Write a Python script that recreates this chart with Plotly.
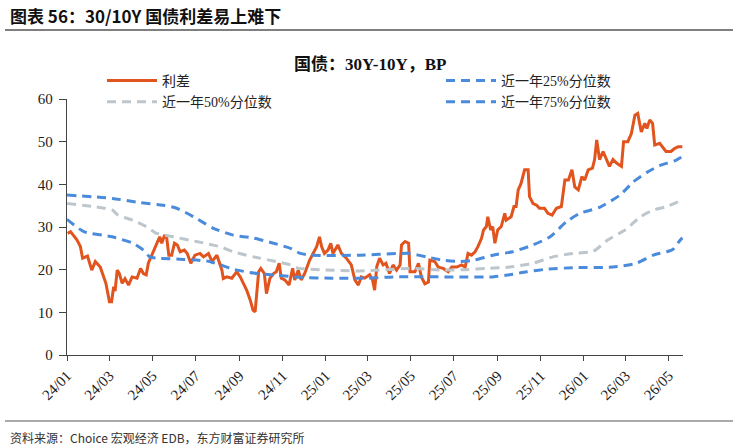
import plotly.graph_objects as go

# ---------------- data ----------------
spread_dates = [
    "2024-01-02", "2024-01-06", "2024-01-15", "2024-01-20", "2024-01-23", "2024-01-30",
    "2024-02-05", "2024-02-10", "2024-02-17", "2024-02-20", "2024-02-25", "2024-03-01",
    "2024-03-04", "2024-03-07", "2024-03-09", "2024-03-12", "2024-03-15", "2024-03-19",
    "2024-03-23", "2024-03-28", "2024-04-02", "2024-04-09", "2024-04-14", "2024-04-18",
    "2024-04-22", "2024-04-25", "2024-04-30", "2024-05-07", "2024-05-11", "2024-05-14",
    "2024-05-18", "2024-05-21", "2024-05-24", "2024-05-28", "2024-06-01", "2024-06-05",
    "2024-06-09", "2024-06-15", "2024-06-19", "2024-06-24", "2024-06-30", "2024-07-07",
    "2024-07-12", "2024-07-19", "2024-07-24", "2024-07-31", "2024-08-07", "2024-08-09",
    "2024-08-14", "2024-08-21", "2024-08-28", "2024-09-02", "2024-09-11", "2024-09-16",
    "2024-09-20", "2024-09-23", "2024-09-25", "2024-09-28", "2024-10-01", "2024-10-06",
    "2024-10-09", "2024-10-14", "2024-10-19", "2024-10-23", "2024-10-27", "2024-10-30",
    "2024-11-04", "2024-11-10", "2024-11-15", "2024-11-18", "2024-11-23", "2024-11-27",
    "2024-12-02", "2024-12-05", "2024-12-09", "2024-12-14", "2024-12-19", "2024-12-23",
    "2024-12-26", "2024-12-30", "2025-01-04", "2025-01-08", "2025-01-11", "2025-01-18",
    "2025-01-23", "2025-01-30", "2025-02-06", "2025-02-11", "2025-02-16", "2025-02-20",
    "2025-02-25", "2025-03-04", "2025-03-08", "2025-03-11", "2025-03-14", "2025-03-18",
    "2025-03-23", "2025-03-27", "2025-04-01", "2025-04-06", "2025-04-11", "2025-04-16",
    "2025-04-18", "2025-04-23", "2025-04-28", "2025-04-30", "2025-05-07", "2025-05-12",
    "2025-05-16", "2025-05-21", "2025-05-26", "2025-05-28", "2025-06-04", "2025-06-09",
    "2025-06-16", "2025-06-23", "2025-06-28", "2025-07-05", "2025-07-12", "2025-07-17",
    "2025-07-21", "2025-07-26", "2025-07-31", "2025-08-04", "2025-08-09", "2025-08-12",
    "2025-08-16", "2025-08-18", "2025-08-22", "2025-08-25", "2025-08-28", "2025-09-01",
    "2025-09-06", "2025-09-11", "2025-09-13", "2025-09-20", "2025-09-24", "2025-09-27",
    "2025-09-30", "2025-10-04", "2025-10-09", "2025-10-14", "2025-10-16", "2025-10-21",
    "2025-10-26", "2025-10-30", "2025-11-06", "2025-11-11", "2025-11-17", "2025-11-23",
    "2025-11-30", "2025-12-05", "2025-12-10", "2025-12-15", "2025-12-19", "2025-12-24",
    "2025-12-29", "2026-01-02", "2026-01-07", "2026-01-13", "2026-01-16", "2026-01-19",
    "2026-01-23", "2026-01-28", "2026-02-02", "2026-02-06", "2026-02-11", "2026-02-16",
    "2026-02-23", "2026-02-26", "2026-03-04", "2026-03-09", "2026-03-14", "2026-03-18",
    "2026-03-23", "2026-03-28", "2026-03-31", "2026-04-04", "2026-04-08", "2026-04-11",
    "2026-04-18", "2026-04-23", "2026-04-27", "2026-05-04", "2026-05-09", "2026-05-14",
    "2026-05-20",
]
spread_values = [
    28.5, 28.9, 27.0, 25.4, 22.7, 23.2,
    19.9, 21.9, 20.6, 19.1, 16.8, 12.5,
    12.5, 16.0, 15.0, 19.9, 19.1, 16.8,
    17.9, 16.4, 18.3, 18.0, 20.3, 19.1,
    18.8, 21.5, 23.4, 25.8, 27.7, 26.2,
    28.1, 27.4, 23.4, 23.4, 26.2, 25.8,
    24.2, 24.6, 23.8, 21.5, 23.4, 23.8,
    23.0, 23.8, 21.9, 23.4, 19.9, 17.9,
    18.3, 18.0, 19.5, 18.3, 15.2, 12.9,
    10.5, 10.1, 13.7, 19.5, 20.3, 19.1,
    14.4, 18.0, 19.1, 19.5, 21.5, 18.0,
    17.6, 16.4, 20.3, 17.6, 19.9, 17.6,
    19.1, 20.6, 22.2, 23.8, 25.4, 27.7,
    25.4, 23.8, 24.6, 26.2, 23.8, 25.8,
    23.8, 22.7, 21.1, 17.6, 16.4, 18.3,
    18.0, 18.8, 17.6, 15.2, 20.7, 22.7,
    21.1, 21.5, 19.1, 21.1, 19.9, 21.1,
    25.8, 26.6, 26.2, 19.5, 19.5, 21.5,
    18.3, 16.7, 17.1, 22.2, 21.9, 20.6,
    20.3, 19.5, 20.6, 20.6, 21.1, 20.6,
    23.8, 23.4, 24.2, 25.4, 27.3, 29.3,
    30.1, 32.4, 29.3, 30.1, 26.2, 29.3,
    30.1, 33.2, 31.6, 32.4, 34.8, 34.8,
    38.7, 40.2, 43.4, 43.4, 37.1, 35.5,
    35.1, 34.4, 34.4, 33.2, 32.8, 34.4,
    34.8, 41.0, 41.0, 43.4, 39.4, 38.7,
    41.8, 41.0, 43.4, 43.8, 45.8, 50.4,
    45.8, 47.7, 45.8, 44.2, 45.8, 45.0,
    44.2, 50.0, 50.0, 51.9, 56.2, 56.6,
    52.3, 54.3, 53.1, 55.1, 54.3, 49.2,
    49.6, 48.4, 47.7, 47.7, 48.4, 48.8,
    48.8,
]

q25_dates = [
    "2024-01-01", "2024-01-25", "2024-03-05", "2024-04-03", "2024-04-18", "2024-04-27",
    "2024-05-07", "2024-06-14", "2024-07-18", "2024-08-09", "2024-08-23", "2024-09-21",
    "2024-10-23", "2024-11-26", "2025-01-11", "2025-02-28", "2025-04-06", "2025-07-09",
    "2025-08-25", "2025-09-18", "2025-10-12", "2025-11-09", "2025-12-21", "2026-02-11",
    "2026-03-16", "2026-04-09", "2026-04-28", "2026-05-07", "2026-05-14", "2026-05-20",
]
q25_values = [
    31.8, 28.9, 27.7, 26.2, 24.6, 23.0,
    22.7, 22.4, 22.0, 20.9, 20.1, 19.2,
    18.7, 18.2, 18.0, 18.0, 18.3, 18.3,
    18.3, 18.8, 19.5, 20.1, 20.5, 20.6,
    21.5, 23.4, 24.2, 24.8, 26.3, 27.5,
]

q50_dates = [
    "2024-01-01", "2024-02-12", "2024-03-05", "2024-03-13", "2024-04-03", "2024-04-22",
    "2024-05-07", "2024-05-30", "2024-07-02", "2024-08-04", "2024-08-23", "2024-09-21",
    "2024-10-23", "2024-11-12", "2024-11-24", "2024-12-10", "2025-02-18", "2025-03-18",
    "2025-04-30", "2025-06-16", "2025-07-19", "2025-08-16", "2025-09-18", "2025-10-21",
    "2025-11-18", "2025-12-17", "2026-01-14", "2026-02-04", "2026-02-28", "2026-03-22",
    "2026-04-09", "2026-04-26", "2026-05-20",
]
q50_values = [
    35.5, 34.7, 34.0, 32.8, 31.6, 30.1,
    28.5, 27.7, 26.6, 25.4, 24.2, 23.0,
    21.9, 21.1, 20.3, 20.1, 19.7, 19.9,
    20.3, 19.9, 20.0, 20.3, 20.6, 21.5,
    23.0, 23.8, 24.3, 27.0, 29.3, 32.4,
    34.0, 34.7, 36.3,
]

q75_dates = [
    "2024-01-01", "2024-03-05", "2024-04-13", "2024-05-16", "2024-06-04", "2024-06-28",
    "2024-07-26", "2024-08-23", "2024-09-21", "2024-10-19", "2024-11-12", "2024-11-26",
    "2024-12-10", "2025-02-18", "2025-04-16", "2025-04-30", "2025-05-23", "2025-06-16",
    "2025-07-09", "2025-07-29", "2025-08-25", "2025-09-22", "2025-10-21", "2025-11-14",
    "2025-12-07", "2025-12-26", "2026-01-23", "2026-02-21", "2026-03-12", "2026-03-31",
    "2026-04-18", "2026-05-09", "2026-05-20",
]
q75_values = [
    37.5, 36.7, 35.7, 35.1, 34.4, 32.4,
    29.7, 28.1, 27.4, 26.2, 25.0, 23.8,
    23.4, 23.4, 23.8, 23.8, 23.0, 22.2,
    21.9, 22.2, 23.4, 24.2, 25.8, 27.7,
    31.2, 33.2, 34.6, 37.5, 40.6, 42.8,
    44.4, 45.5, 46.5,
]

series_names = ["利差", "近一年25%分位数", "近一年50%分位数", "近一年75%分位数"]
main_title = "图表 56：30/10Y 国债利差易上难下"
chart_title = "国债：30Y-10Y，BP"
source_text = "资料来源：Choice 宏观经济 EDB，东方财富证券研究所"

# ---------------- styling ----------------
RED = "#E2541E"
BLUE = "#4A8BDB"
GRAY = "#BCC6CC"
SERIF = "Liberation Serif, Noto Sans CJK SC, serif"
SANS = "Noto Sans CJK SC, Noto Sans, sans-serif"
DASH = "9px,6px"

fig = go.Figure()
fig.add_trace(go.Scatter(x=spread_dates, y=spread_values, mode="lines", name=series_names[0],
                         legend="legend", legendrank=1,
                         line=dict(color=RED, width=3)))
fig.add_trace(go.Scatter(x=q25_dates, y=q25_values, mode="lines", name=series_names[1],
                         legend="legend2", legendrank=1,
                         line=dict(color=BLUE, width=3, dash=DASH, shape="spline", smoothing=0.6)))
fig.add_trace(go.Scatter(x=q50_dates, y=q50_values, mode="lines", name=series_names[2],
                         legend="legend", legendrank=2,
                         line=dict(color=GRAY, width=3, dash=DASH, shape="spline", smoothing=0.6)))
fig.add_trace(go.Scatter(x=q75_dates, y=q75_values, mode="lines", name=series_names[3],
                         legend="legend2", legendrank=2,
                         line=dict(color=BLUE, width=3, dash=DASH, shape="spline", smoothing=0.6)))

L, R, T, B = 67, 54, 99, 92
W, H = 737, 447
PW, PH = W - L - R, H - T - B


def px_x(x):
    return (x - L) / PW


def px_y(y):
    return (H - B - y) / PH


legend_common = dict(
    orientation="v", yanchor="top", xanchor="left",
    font=dict(family=SERIF, size=14, color="#222"),
    bgcolor="rgba(0,0,0,0)", tracegroupgap=0, itemwidth=50,
)

fig.update_layout(
    width=W, height=H,
    margin=dict(l=L, r=R, t=T, b=B, autoexpand=False),
    paper_bgcolor="white", plot_bgcolor="white",
    showlegend=True,
    legend=dict(x=px_x(102), y=px_y(65), **legend_common),
    legend2=dict(x=px_x(441), y=px_y(65), **legend_common),
    xaxis=dict(
        type="date",
        range=["2024-01-01", "2026-05-21"],
        tick0="2024-01-01", dtick="M2", tickformat="%y/%m",
        tickangle=-45,
        showgrid=False, zeroline=False,
        showline=True, linecolor="#444", linewidth=1.3,
        ticks="outside", ticklen=5, tickcolor="#444",
        tickfont=dict(family=SERIF, size=15, color="#222"),
    ),
    yaxis=dict(
        range=[0, 60], dtick=10,
        showgrid=False, zeroline=False,
        showline=True, linecolor="#444", linewidth=1.3,
        ticks="outside", ticklen=7, tickcolor="#444",
        ticklabelstandoff=3,
        tickfont=dict(family=SERIF, size=15, color="#222"),
    ),
    annotations=[
        dict(text="<b>" + main_title + "</b>", xref="paper", yref="paper",
             x=px_x(8), y=px_y(15), xanchor="left", yanchor="middle", showarrow=False,
             font=dict(family=SANS, size=17, color="#111")),
        dict(text="<b>" + chart_title + "</b>", xref="paper", yref="paper",
             x=px_x(370), y=px_y(64), xanchor="center", yanchor="middle", showarrow=False,
             font=dict(family=SERIF, size=17, color="#111")),
        dict(text=source_text, xref="paper", yref="paper",
             x=px_x(8), y=px_y(437), xanchor="left", yanchor="middle", showarrow=False,
             font=dict(family=SANS, size=12, color="#333")),
    ],
    shapes=[
        dict(type="line", xref="paper", yref="paper", x0=px_x(5), x1=px_x(733),
             y0=px_y(30), y1=px_y(30), line=dict(color="#555", width=1.5)),
        dict(type="line", xref="paper", yref="paper", x0=px_x(5), x1=px_x(733),
             y0=px_y(421), y1=px_y(421), line=dict(color="#555", width=1.2)),
    ],
)

fig.write_html("out.html")
